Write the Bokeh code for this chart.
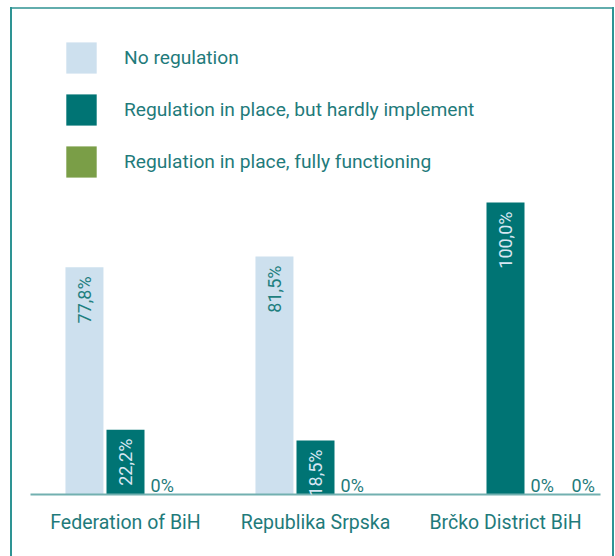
import math
from bokeh.plotting import figure
from bokeh.models import (ColumnDataSource, Range1d, FixedTicker, Legend, LegendItem,
                          LabelSet)
from bokeh.core.properties import value
from bokeh.embed import file_html
from bokeh.resources import INLINE

# ---- data ----
categories = ["Federation of BiH", "Republika Srpska", "Brčko District BiH"]
series_names = ["No regulation", "Regulation in place, but hardly implement",
                "Regulation in place, fully functioning"]
no_regulation = [77.8, 81.5, 0.0]
hardly_implemented = [22.2, 18.5, 100.0]
fully_functioning = [0.0, 0.0, 0.0]
series_values = [no_regulation, hardly_implemented, fully_functioning]

# ---- style ----
colors = ["#cde0ee", "#007474", "#7a9e47"]
label_colors = ["#1f7f7f", "#d6e6f2", "#1f7f7f"]
text_color = "#1f7b7b"
border_color = "#2e9494"
FONT = "Roboto"
slot = 0.216
bar_w = 0.2
offsets = [-slot, 0.0, slot]

p = figure(width=615, height=556, output_backend="svg", toolbar_location=None,
           x_range=Range1d(0, 3), y_range=Range1d(0, 169.2),
           y_axis_location=None, min_border_left=30, min_border_right=15,
           min_border_top=0, min_border_bottom=62)
p.outline_line_color = None
p.xgrid.visible = False
p.ygrid.visible = False
p.border_fill_alpha = 0
p.background_fill_alpha = 0
g = f"linear-gradient({border_color},{border_color})"
p.styles = {
    "background-image": f"{g}, {g}, linear-gradient(#62adad,#62adad)",
    "background-position": "10px 7px, 612px 7px, 10px 7px",
    "background-size": "2px 600px, 2px 600px, 604px 2px",
    "background-repeat": "no-repeat",
}

centers = [i + 0.5 for i in range(len(categories))]
renderers = []
for s, vals in enumerate(series_values):
    src = ColumnDataSource(dict(x=[c + offsets[s] for c in centers], top=vals))
    r = p.vbar(x="x", top="top", width=bar_w, bottom=0, source=src,
               fill_color=colors[s], line_color=None)
    renderers.append(r)

# value labels
rx, ry, rt, rc = [], [], [], []
zx, zy, zt = [], [], []
for i, c in enumerate(centers):
    last_nonzero = -1
    for s, vals in enumerate(series_values):
        if vals[i] > 0:
            last_nonzero = s
    k = last_nonzero + 1
    for s, vals in enumerate(series_values):
        v = vals[i]
        if v > 0:
            rx.append(c + offsets[s]); ry.append(v)
            rt.append(f"{v:.1f}%".replace(".", ","))
            rc.append(label_colors[s])
        else:
            zx.append(c + (k - 1) * slot - bar_w / 2); zy.append(0); zt.append("0%")
            k += 1

rot = LabelSet(x="x", y="y", text="t", source=ColumnDataSource(dict(x=rx, y=ry, t=rt, c=rc)),
               angle=math.pi / 2, text_align="right", text_baseline="middle",
               y_offset=-9, text_color="c", text_font=value(FONT), text_font_size=value("18px"))
p.add_layout(rot)
zl = LabelSet(x="x", y="y", text="t", source=ColumnDataSource(dict(x=zx, y=zy, t=zt)),
              text_align="left", text_baseline="alphabetic", x_offset=3, y_offset=3,
              text_color=text_color, text_font=value(FONT), text_font_size=value("18px"))
p.add_layout(zl)

# axis
ax = p.xaxis[0]
ax.ticker = FixedTicker(ticks=centers)
ax.major_label_overrides = {c: name for c, name in zip(centers, categories)}
ax.major_tick_line_color = None
ax.minor_tick_line_color = None
ax.axis_line_color = "#72b0b0"
ax.axis_line_width = 2
ax.major_label_text_color = text_color
ax.major_label_text_font = FONT
ax.major_label_text_font_size = "19.5px"
ax.major_label_standoff = 10

legend = Legend(items=[LegendItem(label=n, renderers=[r]) for n, r in zip(series_names, renderers)],
                location=(32, 313), glyph_width=38, glyph_height=39, label_height=39,
                spacing=13, label_standoff=24, padding=0, margin=0,
                border_line_color=None, background_fill_alpha=0,
                label_text_font=FONT, label_text_font_size="19.2px",
                label_text_color=text_color)
p.add_layout(legend, "center")

open("out.html", "w").write(file_html(p, INLINE))
